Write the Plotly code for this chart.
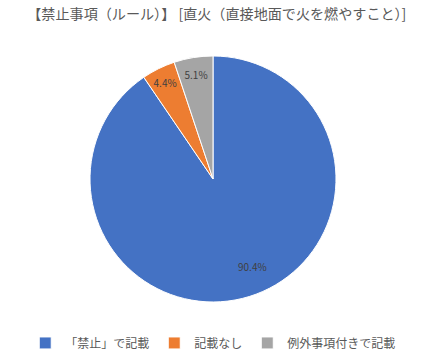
import math
import plotly.graph_objects as go

categories = ["「禁止」で記載", "記載なし", "例外事項付きで記載"]
values = [90.4, 4.4, 5.1]
colors = ["#4472C4", "#ED7D31", "#A5A5A5"]
title_text = "【禁止事項（ルール）】 [直火（直接地面で火を燃やすこと）]"

font_family = "Noto Sans CJK JP, Noto Sans, sans-serif"

W, H = 448, 361
dom_x = [0.2009, 0.75]
dom_y = [0.1634, 0.845]

# big slice label placed via annotation (computed from data: slice mid-angle)
big_label_index = 0
texttemplates = ["" if i == big_label_index else "%{value:.1f}%" for i in range(len(values))]

fig = go.Figure(go.Pie(
    labels=categories,
    values=values,
    marker=dict(colors=colors, line=dict(color="white", width=1)),
    sort=False,
    direction="clockwise",
    rotation=0,
    texttemplate=texttemplates,
    textposition="inside",
    insidetextorientation="horizontal",
    textfont=dict(color="#404040", size=10, family=font_family),
    domain=dict(x=dom_x, y=dom_y),
    hoverinfo="label+value",
))

total = sum(values)
cum = sum(values[:big_label_index])
mid_frac = (cum + values[big_label_index] / 2) / total
ang = 2 * math.pi * mid_frac - 0.12
cx = (dom_x[0] + dom_x[1]) / 2
cy = (dom_y[0] + dom_y[1]) / 2
r_px = min((dom_x[1] - dom_x[0]) * W, (dom_y[1] - dom_y[0]) * H) / 2
rf = 0.79
ax = cx + rf * r_px * math.sin(ang) / W
ay = cy + rf * r_px * math.cos(ang) / H

fig.add_annotation(
    x=ax, y=ay, xref="paper", yref="paper", yshift=-8,
    text=f"{values[big_label_index]:.1f}%", showarrow=False,
    font=dict(color="#404040", size=10, family=font_family),
)

fig.update_layout(
    width=W, height=H,
    margin=dict(l=0, r=0, t=0, b=0),
    paper_bgcolor="white",
    plot_bgcolor="white",
    font=dict(family=font_family, color="#595959"),
    title=dict(text=title_text, x=0.484, xanchor="center", y=0.96, yanchor="middle",
               font=dict(size=14.1, color="#595959", family=font_family)),
    legend=dict(orientation="h", x=0.476, xanchor="center", y=0.05, yanchor="middle",
                font=dict(size=12, color="#595959", family=font_family),
                itemwidth=30, traceorder="normal"),
    showlegend=True,
)

fig.write_html("out.html")
